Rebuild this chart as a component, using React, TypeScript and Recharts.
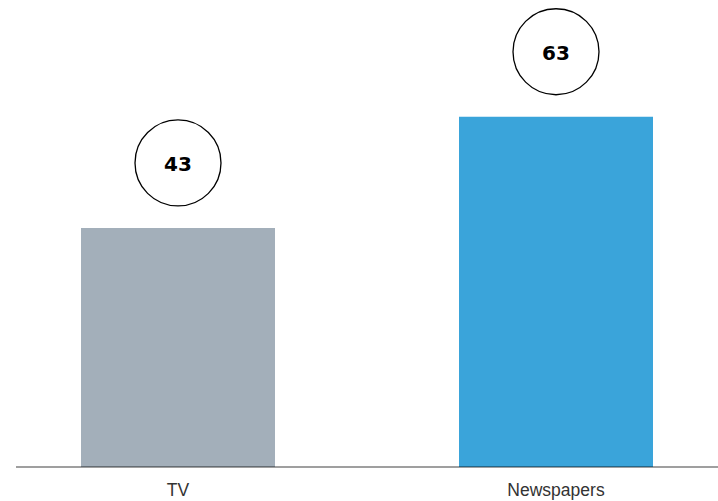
import React from 'react';
import { BarChart, Bar, XAxis, YAxis, Cell, LabelList } from 'recharts';

const categories = ['TV', 'Newspapers'];
const values = [43, 63];
const colors = ['#a3afba', '#3aa4da'];

const data = categories.map((name, i) => ({ name, value: values[i] }));

const Bubble = (props: any) => {
  const { x, y, width, value } = props;
  const cx = x + width / 2;
  const cy = y - 65;
  return (
    <g>
      <circle cx={cx} cy={cy} r={43} fill="#fff" stroke="#000" strokeWidth={1.3} />
      <text
        x={cx}
        y={cy + 1}
        textAnchor="middle"
        dominantBaseline="central"
        fontFamily="DejaVu Sans, sans-serif"
        fontWeight={700}
        fontSize={20}
        fill="#000"
      >
        {value}
      </text>
    </g>
  );
};

export default function App() {
  return (
    <div style={{ position: 'absolute', left: 0, top: 0 }}>
      <BarChart
        width={718}
        height={501}
        data={data}
        margin={{ top: 0, right: 0, bottom: 0, left: 16 }}
        barSize={194}
      >
        <XAxis
          dataKey="name"
          height={34}
          padding={{ left: -27, right: -27 }}
          tickLine={false}
          axisLine={{ stroke: '#000', strokeOpacity: 0.5, strokeWidth: 1.6 }}
          tick={{ fill: '#333', fontSize: 17.5, fontFamily: 'Liberation Sans, Arial, sans-serif' }}
          tickMargin={11}
        />
        <YAxis hide domain={[0, 84]} />
        <Bar dataKey="value" isAnimationActive={false}>
          {data.map((d, i) => (
            <Cell key={d.name} fill={colors[i]} />
          ))}
          <LabelList dataKey="value" content={<Bubble />} />
        </Bar>
      </BarChart>
    </div>
  );
}
